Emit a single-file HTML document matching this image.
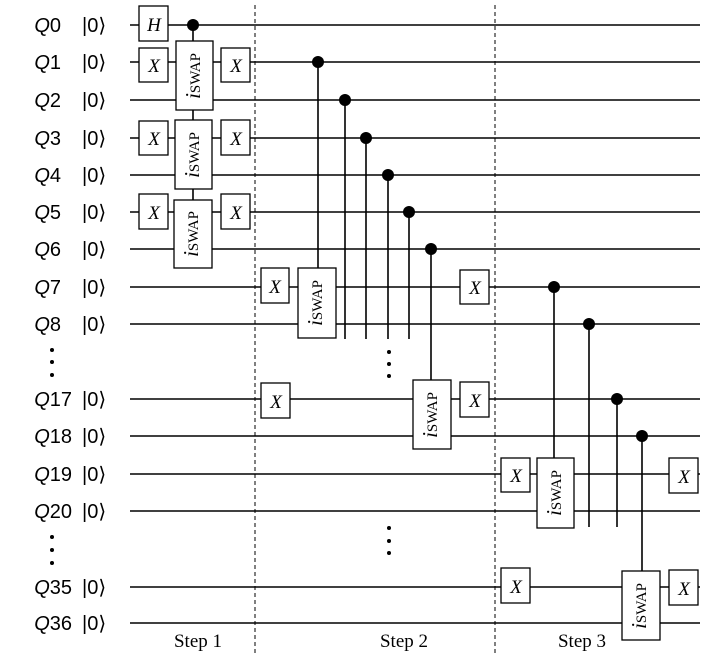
<!DOCTYPE html>
<html><head><meta charset="utf-8"><style>
body{margin:0;background:#fff}
svg{display:block}
.l{font-family:"Liberation Sans",sans-serif;font-size:20px}
.s{font-family:"Liberation Serif",serif}
</style></head><body>
<svg width="722" height="670" viewBox="0 0 722 670" xmlns="http://www.w3.org/2000/svg">
<g stroke="#000" stroke-width="1.6">
<line x1="130" y1="25" x2="700" y2="25"/><line x1="130" y1="62" x2="700" y2="62"/>
<line x1="130" y1="100" x2="700" y2="100"/><line x1="130" y1="138" x2="700" y2="138"/>
<line x1="130" y1="175" x2="700" y2="175"/><line x1="130" y1="212" x2="700" y2="212"/>
<line x1="130" y1="249" x2="700" y2="249"/><line x1="130" y1="287" x2="700" y2="287"/>
<line x1="130" y1="324" x2="700" y2="324"/><line x1="130" y1="399" x2="700" y2="399"/>
<line x1="130" y1="436" x2="700" y2="436"/><line x1="130" y1="474" x2="700" y2="474"/>
<line x1="130" y1="511" x2="700" y2="511"/><line x1="130" y1="587" x2="700" y2="587"/>
<line x1="130" y1="623" x2="700" y2="623"/>
<line x1="193" y1="25" x2="193" y2="200"/>
<line x1="318" y1="62" x2="318" y2="268"/>
<line x1="345" y1="100" x2="345" y2="339"/>
<line x1="366" y1="138" x2="366" y2="339"/>
<line x1="388" y1="175" x2="388" y2="339"/>
<line x1="409" y1="212" x2="409" y2="339"/>
<line x1="431" y1="249" x2="431" y2="380"/>
<line x1="554" y1="287" x2="554" y2="458"/>
<line x1="589" y1="324" x2="589" y2="527"/>
<line x1="617" y1="399" x2="617" y2="527"/>
<line x1="642" y1="436" x2="642" y2="571"/>
</g>
<g stroke="#000" stroke-width="1" stroke-dasharray="4,3">
<line x1="255" y1="5" x2="255" y2="656"/><line x1="495" y1="5" x2="495" y2="656"/>
</g>
<g fill="#000">
<circle cx="193" cy="25" r="6"/><circle cx="318" cy="62" r="6"/><circle cx="345" cy="100" r="6"/>
<circle cx="366" cy="138" r="6"/><circle cx="388" cy="175" r="6"/><circle cx="409" cy="212" r="6"/>
<circle cx="431" cy="249" r="6"/><circle cx="554" cy="287" r="6"/><circle cx="589" cy="324" r="6"/>
<circle cx="617" cy="399" r="6"/><circle cx="642" cy="436" r="6"/>
<circle cx="52" cy="350" r="2"/><circle cx="52" cy="362" r="2"/><circle cx="52" cy="375" r="2"/>
<circle cx="52" cy="537" r="2"/><circle cx="52" cy="550" r="2"/><circle cx="52" cy="563" r="2"/>
<circle cx="389" cy="352" r="2"/><circle cx="389" cy="364" r="2"/><circle cx="389" cy="376" r="2"/>
<circle cx="389" cy="528" r="2"/><circle cx="389" cy="541" r="2"/><circle cx="389" cy="553" r="2"/>
</g>
<g fill="#fff" stroke="#000" stroke-width="1.3">
<rect x="139" y="6" width="29" height="35"/>
<rect x="139" y="48" width="29" height="34"/><rect x="139" y="121" width="29" height="34"/><rect x="139" y="194" width="29" height="35"/>
<rect x="221" y="48" width="29" height="34"/><rect x="221" y="120" width="29" height="35"/><rect x="221" y="194" width="29" height="35"/>
<rect x="261" y="268" width="28" height="35"/><rect x="261" y="383" width="29" height="35"/><rect x="460" y="382" width="29" height="35"/>
<rect x="460" y="270" width="29" height="34"/>
<rect x="501" y="458" width="29" height="34"/><rect x="501" y="568" width="29" height="35"/>
<rect x="669" y="458" width="29" height="35"/><rect x="669" y="570" width="29" height="35"/>
<rect x="176" y="41" width="37" height="69"/><rect x="175" y="120" width="37" height="69"/><rect x="174" y="200" width="38" height="68"/>
<rect x="298" y="268" width="38" height="70"/><rect x="413" y="380" width="38" height="69"/>
<rect x="537" y="458" width="37" height="70"/><rect x="622" y="571" width="38" height="69"/>
</g>
<g class="s" font-style="italic" font-size="19" text-anchor="middle">
<text x="154" y="31">H</text>
<text x="154" y="72">X</text><text x="154" y="145">X</text><text x="154" y="219">X</text>
<text x="236" y="72">X</text><text x="236" y="145">X</text><text x="236" y="219">X</text>
<text x="275" y="293">X</text><text x="276" y="408">X</text><text x="475" y="407">X</text><text x="475" y="294">X</text>
<text x="516" y="482">X</text><text x="516" y="593">X</text><text x="684" y="483">X</text><text x="684" y="595">X</text>
</g>
<g class="s" font-size="15" text-anchor="middle">
<text transform="translate(200,76) rotate(-90)"><tspan font-style="italic" font-size="21">i</tspan>SWAP</text>
<text transform="translate(199,155) rotate(-90)"><tspan font-style="italic" font-size="21">i</tspan>SWAP</text>
<text transform="translate(198,234) rotate(-90)"><tspan font-style="italic" font-size="21">i</tspan>SWAP</text>
<text transform="translate(322,303) rotate(-90)"><tspan font-style="italic" font-size="21">i</tspan>SWAP</text>
<text transform="translate(437,415) rotate(-90)"><tspan font-style="italic" font-size="21">i</tspan>SWAP</text>
<text transform="translate(561,493) rotate(-90)"><tspan font-style="italic" font-size="21">i</tspan>SWAP</text>
<text transform="translate(646,606) rotate(-90)"><tspan font-style="italic" font-size="21">i</tspan>SWAP</text>
</g>
<g class="s" font-size="19" text-anchor="middle">
<text x="198" y="647">Step 1</text><text x="404" y="647">Step 2</text><text x="582" y="647">Step 3</text>
</g>
<g class="l" text-anchor="end">
<text x="61" y="32"><tspan font-style="italic">Q</tspan>0</text>
<text x="61" y="69"><tspan font-style="italic">Q</tspan>1</text>
<text x="61" y="107"><tspan font-style="italic">Q</tspan>2</text>
<text x="61" y="145"><tspan font-style="italic">Q</tspan>3</text>
<text x="61" y="182"><tspan font-style="italic">Q</tspan>4</text>
<text x="61" y="219"><tspan font-style="italic">Q</tspan>5</text>
<text x="61" y="256"><tspan font-style="italic">Q</tspan>6</text>
<text x="61" y="294"><tspan font-style="italic">Q</tspan>7</text>
<text x="61" y="331"><tspan font-style="italic">Q</tspan>8</text>
<text x="72" y="406"><tspan font-style="italic">Q</tspan>17</text>
<text x="72" y="443"><tspan font-style="italic">Q</tspan>18</text>
<text x="72" y="481"><tspan font-style="italic">Q</tspan>19</text>
<text x="72" y="518"><tspan font-style="italic">Q</tspan>20</text>
<text x="72" y="594"><tspan font-style="italic">Q</tspan>35</text>
<text x="72" y="630"><tspan font-style="italic">Q</tspan>36</text>
</g>
<g class="l">
<text x="82" y="32">|0⟩</text><text x="82" y="69">|0⟩</text><text x="82" y="107">|0⟩</text>
<text x="82" y="145">|0⟩</text><text x="82" y="182">|0⟩</text><text x="82" y="219">|0⟩</text>
<text x="82" y="256">|0⟩</text><text x="82" y="294">|0⟩</text><text x="82" y="331">|0⟩</text>
<text x="82" y="406">|0⟩</text><text x="82" y="443">|0⟩</text><text x="82" y="481">|0⟩</text>
<text x="82" y="518">|0⟩</text><text x="82" y="594">|0⟩</text><text x="82" y="630">|0⟩</text>
</g>
</svg>
</body></html>
